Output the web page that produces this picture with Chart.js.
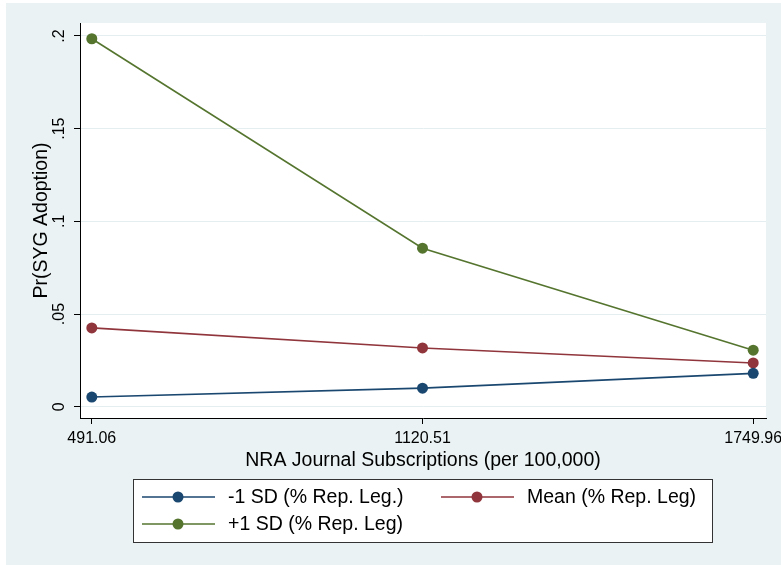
<!DOCTYPE html>
<html>
<head>
<meta charset="utf-8">
<script src="https://cdn.jsdelivr.net/npm/chart.js@4.4.0/dist/chart.umd.min.js"></script>
<style>
  html, body { margin: 0; padding: 0; background: #ffffff; }
  #wrap { width: 781px; height: 565px; }
</style>
</head>
<body>
<div id="wrap"><canvas id="chart" width="781" height="565"></canvas></div>
<script>
// values
const subscriptions = [491.06, 1120.51, 1749.96];
const yTicks = [0, 0.05, 0.1, 0.15, 0.2];
const yTickLabels = ['0', '.05', '.1', '.15', '.2'];
const minusSD = [0.0052, 0.0100, 0.0180];
const meanRep = [0.0425, 0.0317, 0.0236];
const plusSD = [0.1985, 0.0855, 0.0305];

const FONT = '"Liberation Sans", Arial, sans-serif';
const BG = '#eaf2f3';

function series(label, values, color) {
    return {
        label: label,
        data: values.map((v, i) => ({ x: subscriptions[i], y: v })),
        borderColor: color,
        backgroundColor: color,
        borderWidth: 1.6,
        pointRadius: 5.5,
        pointHoverRadius: 5.5,
        pointBorderWidth: 0,
        tension: 0
    };
}

// outer background + white plot region
const backdrop = {
    id: 'backdrop',
    beforeDraw(c) {
        const ctx = c.ctx, a = c.chartArea;
        ctx.save();
        ctx.fillStyle = '#ffffff';
        ctx.fillRect(0, 0, c.width, c.height);
        ctx.fillStyle = BG;
        ctx.fillRect(6, 3, c.width - 6, c.height - 3);
        ctx.fillStyle = '#ffffff';
        ctx.fillRect(a.left, a.top, a.right - a.left, a.bottom - a.top);
        ctx.restore();
    }
};

// rotated y tick labels and the legend box
const extras = {
    id: 'extras',
    afterDraw(c) {
        const ctx = c.ctx, y = c.scales.y;
        ctx.save();
        ctx.fillStyle = '#000';
        ctx.font = '16px ' + FONT;
        ctx.textAlign = 'center';
        ctx.textBaseline = 'middle';
        yTicks.forEach((t, i) => {
            ctx.save();
            ctx.translate(60, y.getPixelForValue(t));
            ctx.rotate(-Math.PI / 2);
            ctx.fillText(yTickLabels[i], 0, 0);
            ctx.restore();
        });

        // legend
        ctx.fillStyle = '#fff';
        ctx.fillRect(133, 479, 579, 63);
        ctx.strokeStyle = '#333';
        ctx.lineWidth = 1;
        ctx.strokeRect(133.5, 479.5, 579, 63);
        const slots = [[142, 497], [441, 497], [142, 524]];
        ctx.font = '19.5px ' + FONT;
        ctx.textAlign = 'left';
        c.data.datasets.forEach((ds, i) => {
            const [sx, sy] = slots[i];
            ctx.strokeStyle = ds.borderColor;
            ctx.lineWidth = 1.6;
            ctx.beginPath();
            ctx.moveTo(sx, sy);
            ctx.lineTo(sx + 73, sy);
            ctx.stroke();
            ctx.fillStyle = ds.borderColor;
            ctx.beginPath();
            ctx.arc(sx + 36, sy, 5.5, 0, Math.PI * 2);
            ctx.fill();
            ctx.fillStyle = '#000';
            ctx.fillText(ds.label, sx + 86, sy + 1);
        });
        ctx.restore();
    }
};

const chart = document.getElementById('chart').getContext('2d');

new Chart(chart, {
    type: 'line',
    data: {
        datasets: [
            series('-1 SD (% Rep. Leg.)', minusSD, '#1a476f'),
            series('Mean (% Rep. Leg)', meanRep, '#90353b'),
            series('+1 SD (% Rep. Leg)', plusSD, '#55752f')
        ]
    },
    options: {
        responsive: false,
        animation: false,
        events: [],
        layout: { padding: { top: 23, right: 15, left: 20, bottom: 93 } },
        plugins: { legend: { display: false }, tooltip: { enabled: false } },
        scales: {
            x: {
                type: 'linear',
                min: 468.6,
                max: 1774.3,
                afterBuildTicks: s => { s.ticks = subscriptions.map(v => ({ value: v })); },
                afterFit: s => { s.height = 54; s.paddingLeft = 0; s.paddingRight = 0; },
                border: { color: '#000', width: 1 },
                grid: { drawOnChartArea: false, tickLength: 6, tickColor: '#000' },
                ticks: {
                    color: '#000',
                    font: { family: FONT, size: 16 },
                    padding: 5,
                    maxRotation: 0,
                    callback: v => v.toFixed(2)
                },
                title: {
                    display: true,
                    text: 'NRA Journal Subscriptions (per 100,000)',
                    color: '#000',
                    font: { family: FONT, size: 19.5 },
                    padding: 0
                }
            },
            y: {
                min: -0.0061,
                max: 0.207,
                afterBuildTicks: s => { s.ticks = yTicks.map(v => ({ value: v })); },
                afterFit: s => { s.width = 60; s.paddingTop = 0; s.paddingBottom = 0; },
                border: { color: '#000', width: 1 },
                grid: { color: '#e4edef', lineWidth: 1, tickLength: 6, tickColor: '#000' },
                ticks: { display: false },
                title: {
                    display: true,
                    text: 'Pr(SYG Adoption)',
                    color: '#000',
                    font: { family: FONT, size: 19.5 },
                    padding: { top: 10, bottom: 0 }
                }
            }
        }
    },
    plugins: [backdrop, extras]
});
</script>
</body>
</html>
